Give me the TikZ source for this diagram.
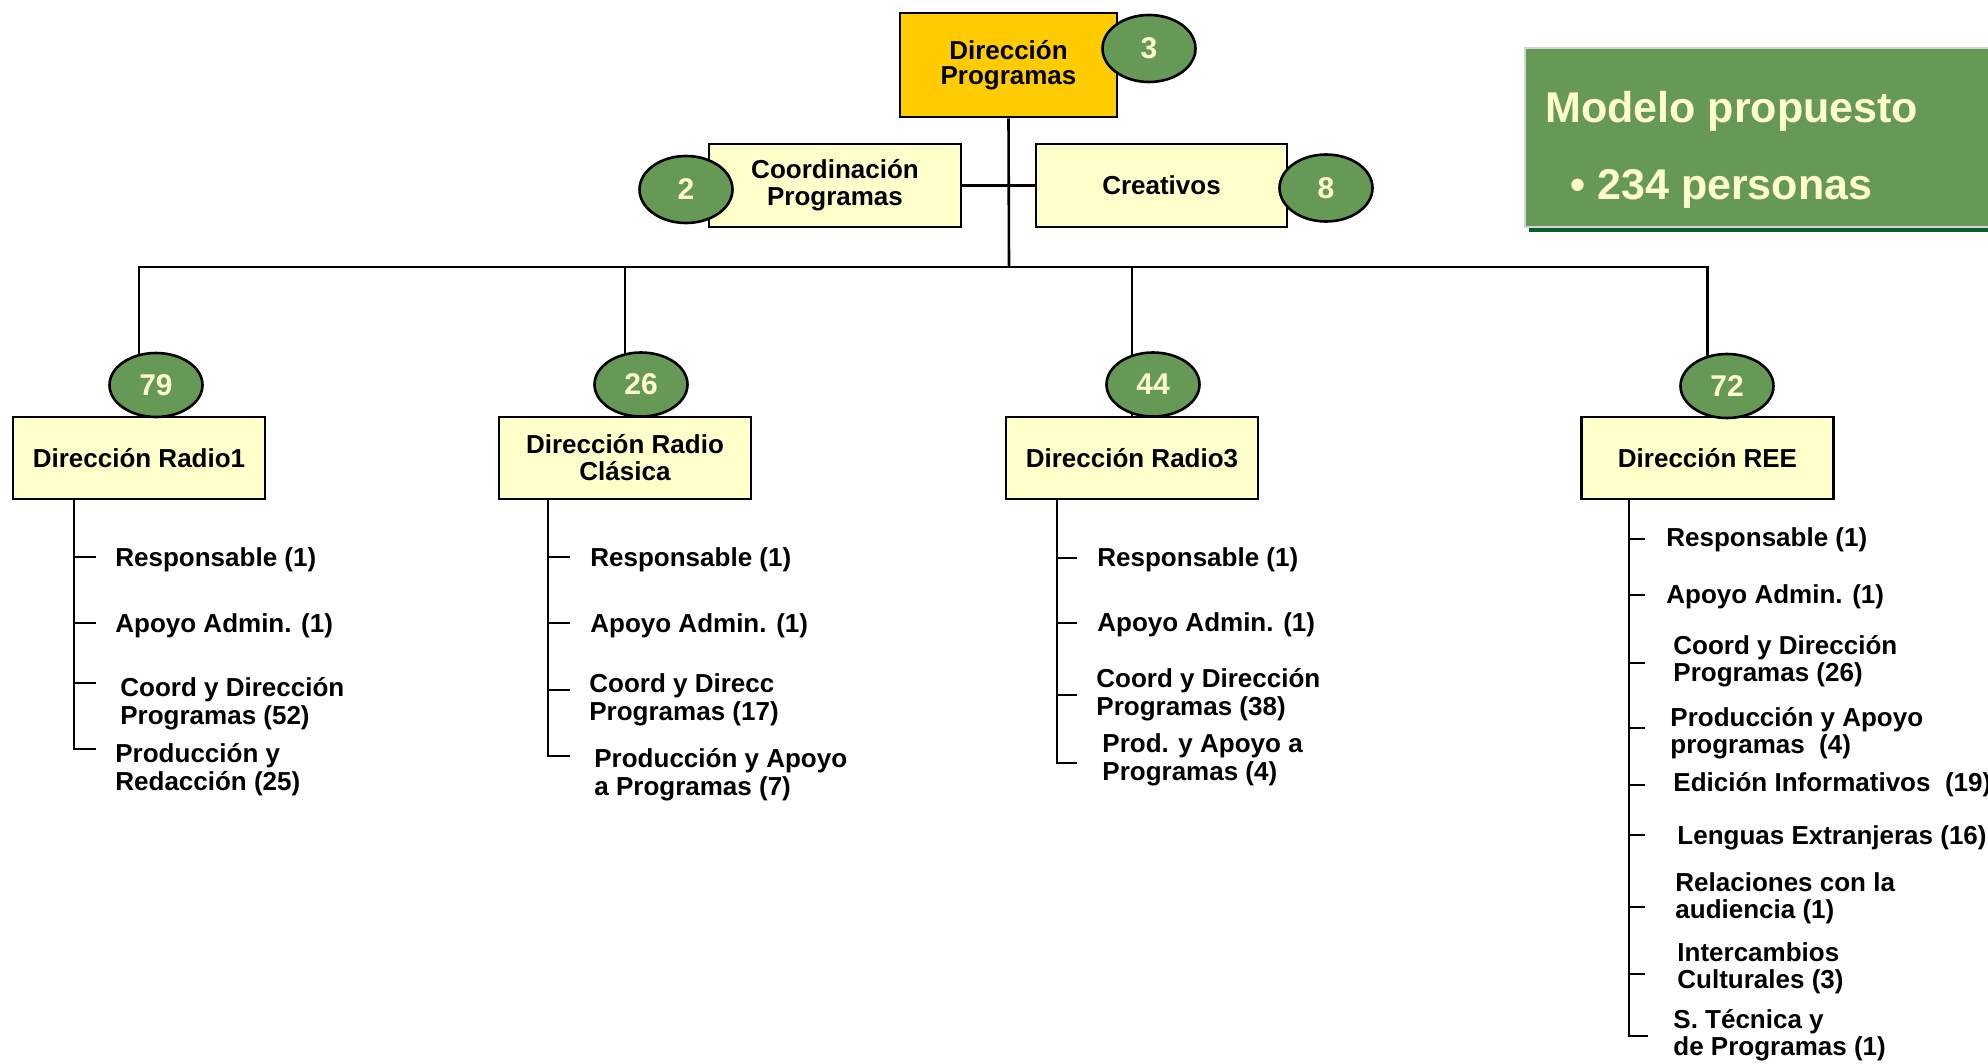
\documentclass[tikz,border=0pt]{standalone}
\usepackage{fontspec}
\setmainfont{Liberation Sans}
\usetikzlibrary{shapes.geometric}
\definecolor{boxyellow}{HTML}{FFFFCC}
\definecolor{goldbox}{HTML}{FFCC00}
\definecolor{leaf}{HTML}{669955}
\definecolor{numtxt}{HTML}{FFFFCC}
\definecolor{darkgreen}{HTML}{0B5B2E}
\definecolor{panelborder}{HTML}{D4D4D4}
\begin{document}
\begin{tikzpicture}[x=0.5pt,y=-0.5pt,
  unitbox/.style={draw=black, line width=1.4pt, fill=boxyellow, minimum width=126pt,
    minimum height=41pt, inner sep=0pt, align=center, font=\fontsize{13}{13.5}\selectfont\bfseries},
  count/.style={ellipse, draw=black, line width=1.3pt, fill=leaf, minimum width=46.5pt,
    minimum height=32pt, inner sep=0pt, text=numtxt, font=\fontsize{15}{15}\selectfont\bfseries},
  link/.style={line width=1.3pt},
  item/.style={anchor=west, inner sep=0pt, align=left, font=\fontsize{13}{14}\selectfont\bfseries},
  itemree/.style={item, font=\fontsize{13}{13.5}\selectfont\bfseries}]
\useasboundingbox (0,0) rectangle (1988,1064);
\clip (0,0) rectangle (1988,1064);

% ---------- boxes ----------
\node[unitbox, fill=goldbox, minimum width=108.5pt, minimum height=52pt,
  font=\fontsize{13}{12.5}\selectfont\bfseries] (main) at (1008.5,65) {Dirección\\Programas};
\node[unitbox, minimum height=41.5pt] (coord) at (835,185.5) {Coordinación\\Programas};
\node[unitbox, minimum height=41.5pt, minimum width=125.5pt] (creat) at (1161.5,185.5) {Creativos};

\node[unitbox] (r1) at (139,458) {Dirección Radio1};
\node[unitbox] (rc) at (625,458) {Dirección Radio\\Clásica};
\node[unitbox] (r3) at (1132,458) {Dirección Radio3};
\node[unitbox] (ree) at (1707.5,458) {Dirección REE};

% ---------- connectors ----------
\coordinate (hub) at (1009,267);
\draw[link] (main.south) -- (hub);
\draw[link] (coord.east) -- (creat.west);
\draw[link] (hub) -| (r1.north);
\draw[link] (hub) -| (rc.north);
\draw[link] (hub) -| (r3.north);
\draw[link] (hub) -| (ree.north);

% ---------- counts ----------
\node[count, minimum height=33.5pt] (c3) at (1149,48.5) {3};
\node[count, minimum height=33.5pt] (c2) at (686,189.5) {2};
\node[count, minimum height=33.5pt] (c8) at (1326,188) {8};
\node[count] (c79) at (156,385) {79};
\node[count] (c26) at (641,384.5) {26};
\node[count] (c44) at (1153,384.5) {44};
\node[count] (c72) at (1727,386) {72};

% ---------- Radio1 ----------
\draw[link] (74,499) |- (96,749);
\foreach \yy in {557,623,683} \draw[link] (74,\yy) -- (96,\yy);
\node[item] (r1a) at (115,560) {Responsable (1)};
\node[item] (r1b) at (115,626) {Apoyo Admin. (1)};
\node[item] (r1c) at (120,704) {Coord y Dirección\\Programas (52)};
\node[item] (r1d) at (115,770) {Producción y\\Redacción (25)};

% ---------- Radio Clasica ----------
\draw[link] (548,499) |- (570,756);
\foreach \yy in {557,623,690} \draw[link] (548,\yy) -- (570,\yy);
\node[item] (rca) at (590,560) {Responsable (1)};
\node[item] (rcb) at (590,626) {Apoyo Admin. (1)};
\node[item] (rcc) at (589,700) {Coord y Direcc\\Programas (17)};
\node[item] (rcd) at (594,775) {Producción y Apoyo\\a Programas (7)};

% ---------- Radio3 ----------
\draw[link] (1057,499) |- (1077,763);
\foreach \yy in {558,623,695} \draw[link] (1057,\yy) -- (1077,\yy);
\node[item] (r3a) at (1097,560) {Responsable (1)};
\node[item] (r3b) at (1097,625) {Apoyo Admin. (1)};
\node[item] (r3c) at (1096,695) {Coord y Dirección\\Programas (38)};
\node[item] (r3d) at (1102,760) {Prod. y Apoyo a\\Programas (4)};

% ---------- REE ----------
\draw[link] (1629,499) |- (1648,1036);
\foreach \yy in {539,595,663,728,785,835,907,974} \draw[link] (1629,\yy) -- (1645,\yy);
\node[itemree] (reea) at (1666,540) {Responsable (1)};
\node[itemree] (reeb) at (1666,597) {Apoyo Admin. (1)};
\node[itemree] (reec) at (1673,661.5) {Coord y Dirección\\Programas (26)};
\node[itemree] (reed) at (1670,733) {Producción y Apoyo\\programas~~(4)};
\node[itemree] (reee) at (1673,785) {Edición Informativos~~(19)};
\node[itemree] (reef) at (1677,838) {Lenguas Extranjeras (16)};
\node[itemree] (reeg) at (1675,898.5) {Relaciones con la\\audiencia (1)};
\node[itemree] (reeh) at (1677,968) {Intercambios\\Culturales (3)};
\node[itemree] (reei) at (1673,1035.5) {S. Técnica y\\de Programas (1)};

% ---------- summary panel ----------
\draw[draw=panelborder, line width=1.2pt, fill=leaf] (1525,48) rectangle (1998,227);
\draw[darkgreen, line width=1.6pt] (1529,230) -- (1998,230);
\node[anchor=base west, inner sep=0pt, text=numtxt, font=\fontsize{21.5}{21.5}\selectfont\bfseries]
  (title) at (1545,123) {Modelo propuesto};
\node[anchor=base west, inner sep=0pt, text=numtxt, font=\fontsize{21.5}{21.5}\selectfont\bfseries]
  (total) at (1570,200) {• 234 personas};
\end{tikzpicture}
\end{document}
